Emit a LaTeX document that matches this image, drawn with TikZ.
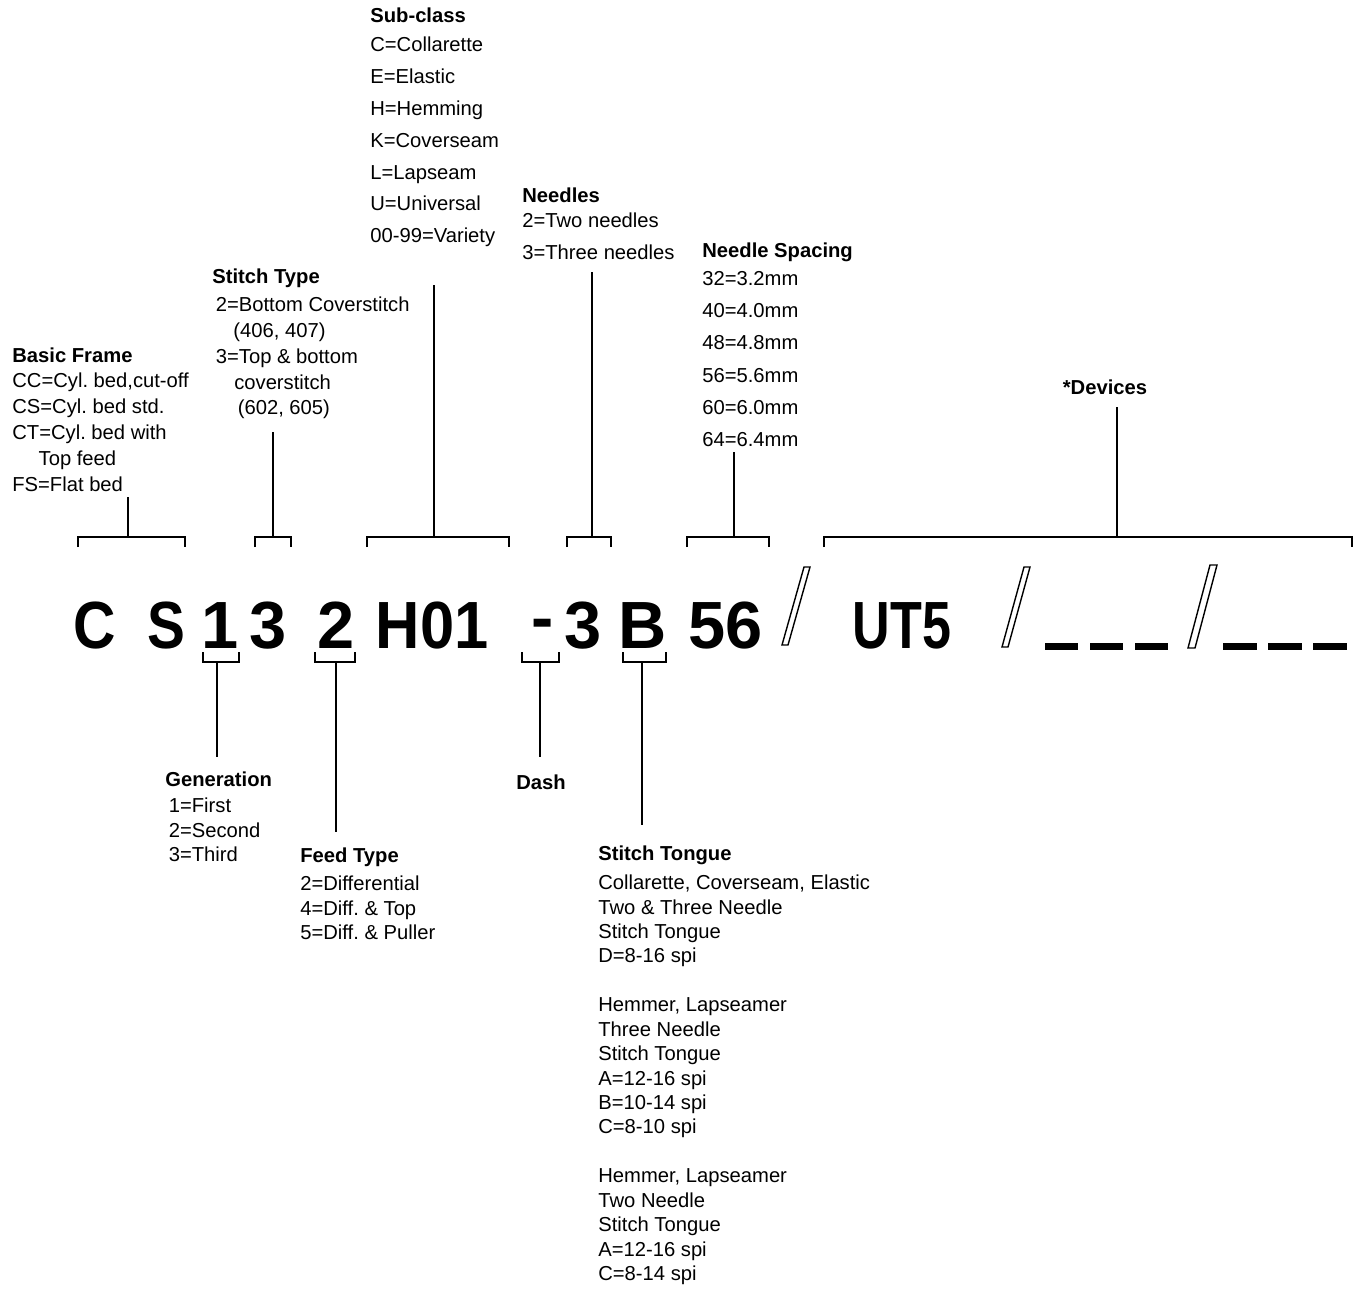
\documentclass[tikz,border=0pt]{standalone}
\usepackage{fontspec}
\setmainfont{Liberation Sans}
\frenchspacing

\begin{document}
\begin{tikzpicture}[
  x=0.02cm, y=-0.02cm,
  block/.style={anchor=north west, inner sep=0pt, align=left, font=\fontsize{11.5}{#1}\selectfont},
  block/.default=14.7pt,
  head/.style={inner sep=0pt, font=\fontsize{11.5}{14}\selectfont\bfseries},
  code/.style={anchor=base, inner sep=0pt, font=\fontsize{38}{40}\selectfont\bfseries},
  brace/.style={line width=0.8pt},
  stem/.style={line width=0.8pt},
  slash/.style={line width=0.8pt, line join=miter},
  blank/.style={fill=black}
]
\useasboundingbox (0,0) rectangle (1372,1288);

% the model code
\node[code] (cC) at (95,648) {\scalebox{0.88}[1]{C}};
\node[code] (cS) at (166,648) {\scalebox{0.85}[1]{S}};
\node[code] (cGen) at (220,648) {1};
\node[code] (cStype) at (268,648) {3};
\node[code] (cFeed) at (336,648) {2};
\node[code] (cSub) at (432,648) {\scalebox{0.92}[1]{H01}};
\node[code] (cDash) at (543,648) {\raisebox{4.5pt}{-}};
\node[code] (cNeedles) at (583,648) {3};
\node[code] (cTongue) at (643,648) {B};
\node[code] (cSpace) at (726,648) {56};
\node[code] (cDev) at (902,648) {\scalebox{0.78}[1]{UT5}};

% slashes and blanks
\draw[slash] (782,645) -- (788,645) -- (810,567) -- (804,567) -- cycle;
\draw[slash] (1002,647) -- (1008,647) -- (1030,567) -- (1024,567) -- cycle;
\draw[slash] (1188,648) -- (1195,648) -- (1217,565) -- (1210,565) -- cycle;
\foreach \a/\b in {1045/1078, 1090/1123, 1135/1168, 1223/1257, 1268/1302, 1313/1347}
  \fill[blank] (\a,643) rectangle (\b,650);

% upper descriptions
\node[block] (frame) at (12,347) {\textbf{Basic Frame}\\
  CC=Cyl. bed,cut-off\\
  CS=Cyl. bed std.\\
  CT=Cyl. bed with\\
  \hspace*{15pt}Top feed\\
  FS=Flat bed};

\node[block] (stype) at (212,269) {\textbf{Stitch Type}\\[1pt]
  \hspace*{2pt}2=Bottom Coverstitch\\
  \hspace*{12pt}(406, 407)\\
  \hspace*{2pt}3=Top \& bottom\\
  \hspace*{12.5pt}coverstitch\\
  \hspace*{14.5pt}(602, 605)};

\node[block=18.1pt] (subclass) at (370,8) {\textbf{Sub-class}\\[-1.7pt]
  C=Collarette\\
  E=Elastic\\
  H=Hemming\\
  K=Coverseam\\
  L=Lapseam\\
  U=Universal\\
  00-99=Variety};

\node[block=14.2pt] (needles) at (522,188) {\textbf{Needles}\\
  2=Two needles\\[4pt]
  3=Three needles};

\node[block=18.4pt] (spacing) at (702,243) {\textbf{Needle Spacing}\\[-3pt]
  32=3.2mm\\
  40=4.0mm\\
  48=4.8mm\\
  56=5.6mm\\
  60=6.0mm\\
  64=6.4mm};

\node[head] (devices) at (1105,387) {*Devices};

% lower descriptions
\node[block=13.9pt] (generation) at (165,771) {\textbf{Generation}\\[1.4pt]
  \hspace*{2pt}1=First\\
  \hspace*{2pt}2=Second\\
  \hspace*{2pt}3=Third};

\node[head, anchor=west] (dash) at (516,782) {Dash};

\node[block=13.9pt] (feed) at (300,847) {\textbf{Feed Type}\\[2.5pt]
  2=Differential\\
  4=Diff. \& Top\\
  5=Diff. \& Puller};

\node[block=13.9pt] (tongue) at (598,845) {\textbf{Stitch Tongue}\\[3pt]
  Collarette, Coverseam, Elastic\\
  Two \& Three Needle\\
  Stitch Tongue\\
  D=8-16 spi\\[13.9pt]
  Hemmer, Lapseamer\\
  Three Needle\\
  Stitch Tongue\\
  A=12-16 spi\\
  B=10-14 spi\\
  C=8-10 spi\\[13.9pt]
  Hemmer, Lapseamer\\
  Two Needle\\
  Stitch Tongue\\
  A=12-16 spi\\
  C=8-14 spi};

% brackets above the code
\coordinate (frameJoin) at (128,537);
\coordinate (frameEnd) at (128,497);
\coordinate (stypeJoin) at (273,537);
\coordinate (stypeEnd) at (273,432);
\coordinate (subJoin) at (434,537);
\coordinate (subEnd) at (434,285);
\coordinate (needlesJoin) at (592,537);
\coordinate (needlesEnd) at (592,272);
\coordinate (spaceJoin) at (734,537);
\coordinate (spaceEnd) at (734,452);
\coordinate (devJoin) at (1117,537);
\coordinate (devEnd) at (1117,407);

\draw[brace] (78,547) -- (78,537) -- (185,537) -- (185,547);
\draw[brace] (255,547) -- (255,537) -- (291,537) -- (291,547);
\draw[brace] (367,547) -- (367,537) -- (509,537) -- (509,547);
\draw[brace] (567,547) -- (567,537) -- (611,537) -- (611,547);
\draw[brace] (687,547) -- (687,537) -- (769,537) -- (769,547);
\draw[brace] (824,547) -- (824,537) -- (1352,537) -- (1352,547);

\draw[stem] (frameJoin) -- (frameEnd);
\draw[stem] (stypeJoin) -- (stypeEnd);
\draw[stem] (subJoin) -- (subEnd);
\draw[stem] (needlesJoin) -- (needlesEnd);
\draw[stem] (spaceJoin) -- (spaceEnd);
\draw[stem] (devJoin) -- (devEnd);

% brackets below the code
\coordinate (genJoin) at (217,662);
\coordinate (genEnd) at (217,757);
\coordinate (feedJoin) at (336,662);
\coordinate (feedEnd) at (336,832);
\coordinate (dashJoin) at (540,662);
\coordinate (dashEnd) at (540,757);
\coordinate (tongueJoin) at (642,662);
\coordinate (tongueEnd) at (642,825);

\draw[brace] (203,652) -- (203,662) -- (239,662) -- (239,652);
\draw[brace] (315,652) -- (315,662) -- (355,662) -- (355,652);
\draw[brace] (522,652) -- (522,662) -- (559,662) -- (559,652);
\draw[brace] (623,652) -- (623,662) -- (666,662) -- (666,652);

\draw[stem] (genJoin) -- (genEnd);
\draw[stem] (feedJoin) -- (feedEnd);
\draw[stem] (dashJoin) -- (dashEnd);
\draw[stem] (tongueJoin) -- (tongueEnd);

\end{tikzpicture}
\end{document}
